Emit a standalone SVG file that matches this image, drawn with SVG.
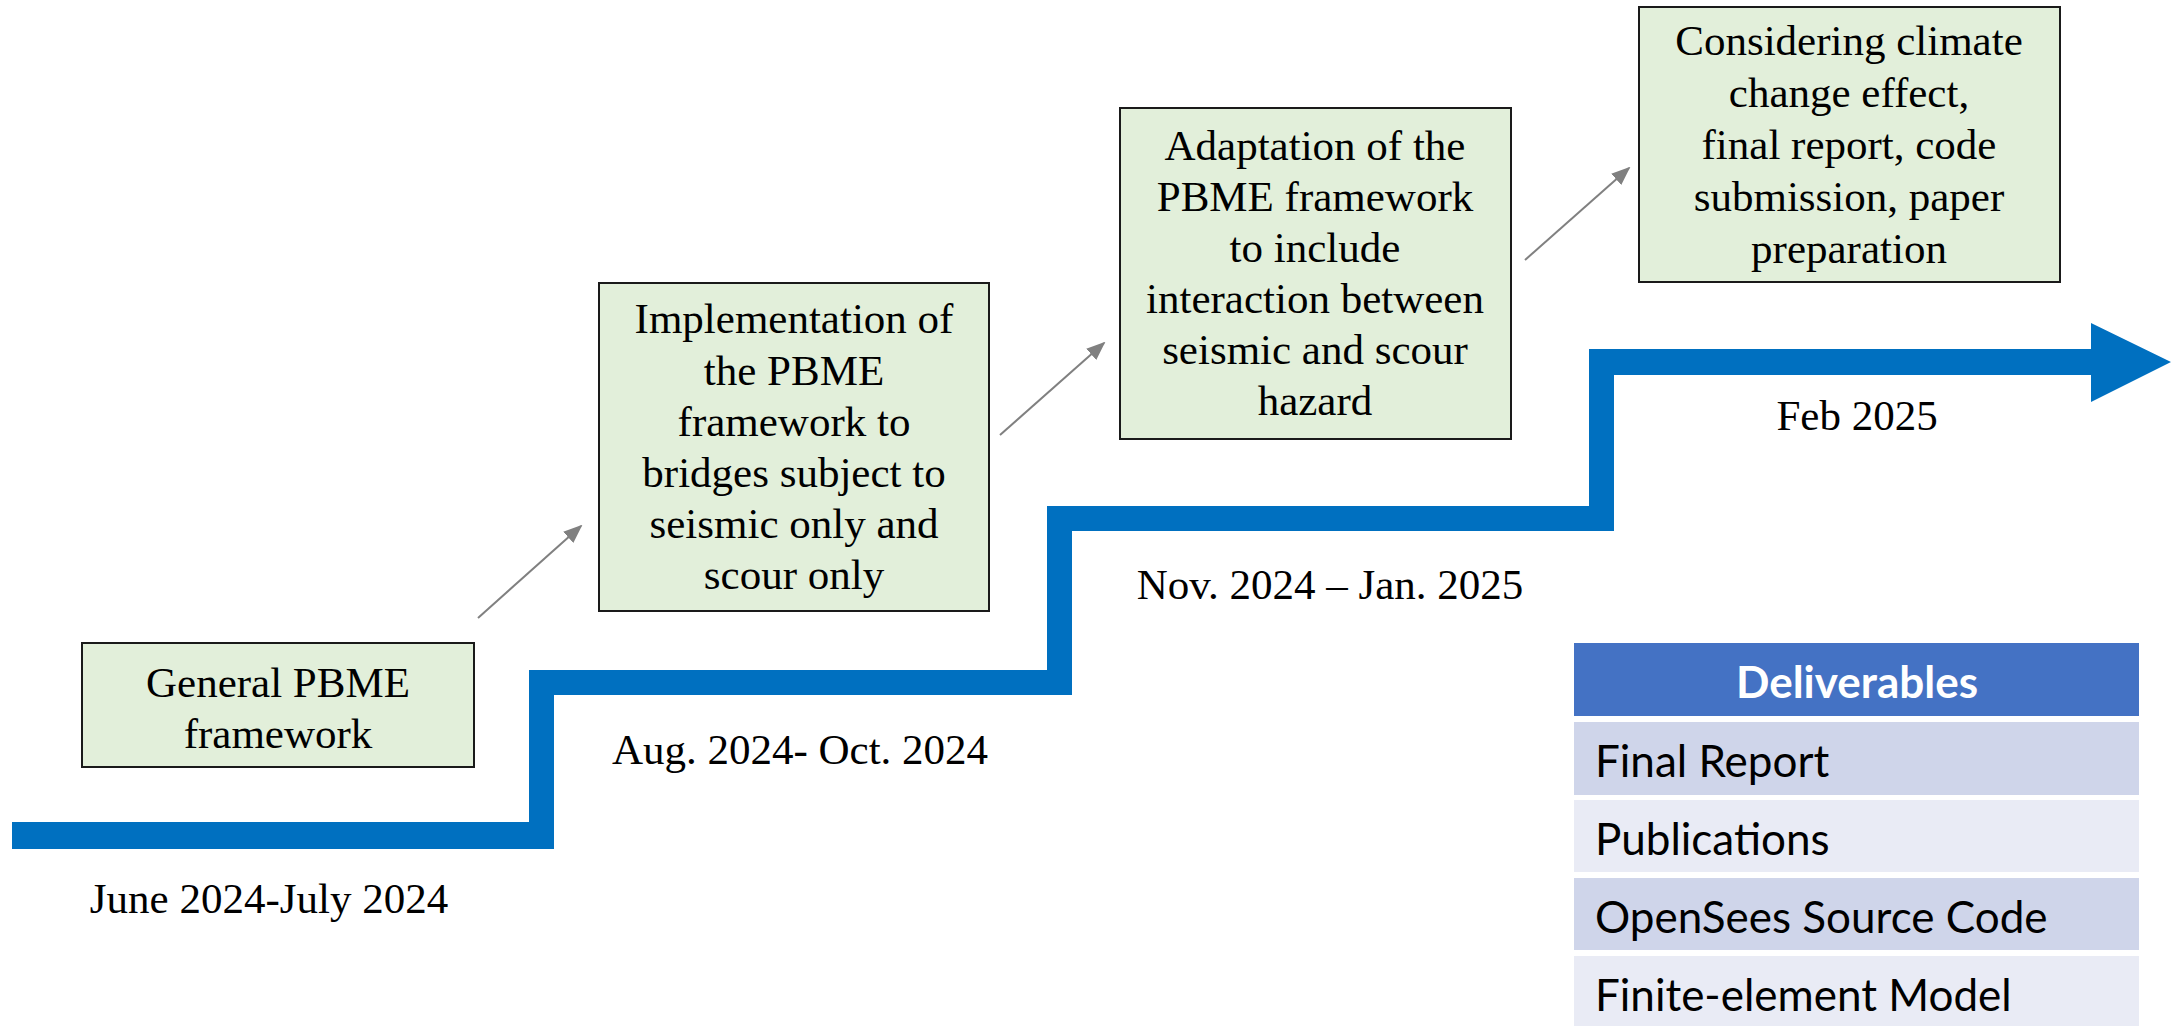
<svg xmlns="http://www.w3.org/2000/svg" width="2178" height="1026" viewBox="0 0 2178 1026">
<defs>
<style>
.box{fill:#E2EFDA;stroke:#1a1a1a;stroke-width:2}
.t{font-family:"Liberation Serif","Times New Roman",serif;font-size:43px;fill:#000;text-anchor:middle}
.conn{stroke:#808080;stroke-width:2;fill:none}
.hdr{fill:#4472C4}
.r1{fill:#CFD5EA}
.r2{fill:#E9EBF5}
.cal{font-family:Lato,"Open Sans",sans-serif;font-size:44px;fill:#000}
</style>
<marker id="ahg" viewBox="0 0 10 10" refX="9" refY="5" markerWidth="19" markerHeight="19" markerUnits="userSpaceOnUse" orient="auto">
<path d="M0,1 L10,5 L0,9 z" fill="#808080"/>
</marker>
</defs>
<rect width="2178" height="1026" fill="#fff"/>
<g id="timeline">
<polygon fill="#0070C0" points="12,822 529,822 529,670 1047,670 1047,506 1589,506 1589,349 2091,349 2091,323 2171,362 2091,402 2091,375 1614,375 1614,531 1072,531 1072,695 554,695 554,849 12,849"/>
</g>
<g id="connectors">
<line class="conn" x1="478" y1="618" x2="581" y2="526" marker-end="url(#ahg)"/>
<line class="conn" x1="1000" y1="435" x2="1104" y2="343" marker-end="url(#ahg)"/>
<line class="conn" x1="1525" y1="260" x2="1629" y2="168" marker-end="url(#ahg)"/>
</g>
<g id="node1">
<rect class="box" x="82" y="643" width="392" height="124"/>
<text class="t" x="278" y="697">General PBME</text>
<text class="t" x="278" y="748">framework</text>
</g>
<g id="node2">
<rect class="box" x="599" y="283" width="390" height="328"/>
<text class="t" x="794" y="333">Implementation of</text>
<text class="t" x="794" y="385">the PBME</text>
<text class="t" x="794" y="436">framework to</text>
<text class="t" x="794" y="487">bridges subject to</text>
<text class="t" x="794" y="538">seismic only and</text>
<text class="t" x="794" y="589">scour only</text>
</g>
<g id="node3">
<rect class="box" x="1120" y="108" width="391" height="331"/>
<text class="t" x="1315" y="160">Adaptation of the</text>
<text class="t" x="1315" y="211">PBME framework</text>
<text class="t" x="1315" y="262">to include</text>
<text class="t" x="1315" y="313">interaction between</text>
<text class="t" x="1315" y="364">seismic and scour</text>
<text class="t" x="1315" y="415">hazard</text>
</g>
<g id="node4">
<rect class="box" x="1639" y="7" width="421" height="275"/>
<text class="t" x="1849" y="55">Considering climate</text>
<text class="t" x="1849" y="107">change effect,</text>
<text class="t" x="1849" y="159">final report, code</text>
<text class="t" x="1849" y="211">submission, paper</text>
<text class="t" x="1849" y="263">preparation</text>
</g>
<g id="dates">
<text class="t" x="269" y="913">June 2024-July 2024</text>
<text class="t" x="800" y="764">Aug. 2024- Oct. 2024</text>
<text class="t" x="1330" y="599">Nov. 2024 – Jan. 2025</text>
<text class="t" x="1857" y="430">Feb 2025</text>
</g>
<g id="deliverables">
<rect class="hdr" x="1574" y="643" width="565" height="73"/>
<text x="1857" y="698" font-family="Lato,'Open Sans',sans-serif" font-size="44" font-weight="bold" fill="#fff" text-anchor="middle">Deliverables</text>
<rect class="r1" x="1574" y="722" width="565" height="73"/>
<text class="cal" x="1595" y="777">Final Report</text>
<rect class="r2" x="1574" y="800" width="565" height="72"/>
<text class="cal" x="1595" y="855">Publications</text>
<rect class="r1" x="1574" y="878" width="565" height="72"/>
<text class="cal" x="1595" y="933">OpenSees Source Code</text>
<rect class="r2" x="1574" y="956" width="565" height="70"/>
<text class="cal" x="1595" y="1011">Finite-element Model</text>
</g>
</svg>
